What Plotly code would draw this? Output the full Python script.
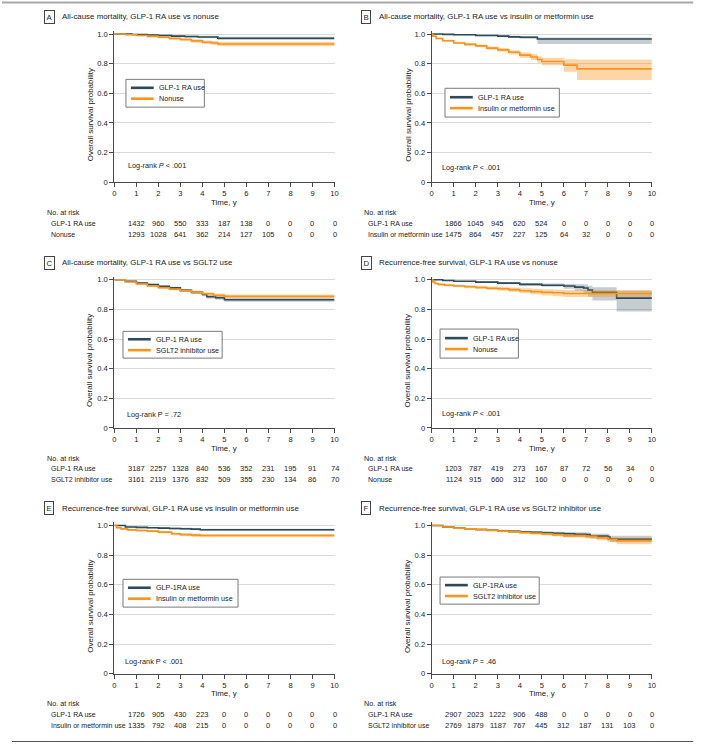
import plotly.graph_objects as go

W, H = 723, 748
FONT = "Liberation Sans, Arial, sans-serif"
TXT = "#222222"
DARK = "#2d4b58"
ORANGE = "#f7941d"
DARK_BAND = "rgba(45,75,88,0.28)"
ORANGE_BAND = "rgba(247,148,29,0.38)"

# ── Kaplan-Meier curves (time in years, survival prob) ──
# A: all-cause mortality, GLP-1 RA vs nonuse
A_GLP_T = [0, 0.8, 1.5, 2.0, 2.6, 3.2, 3.8, 4.7, 10]
A_GLP_S = [1.0, 0.997, 0.993, 0.99, 0.986, 0.983, 0.98, 0.972, 0.972]
A_GLP_LO = [1.0, 0.994, 0.988, 0.984, 0.979, 0.975, 0.971, 0.96, 0.96]
A_GLP_HI = [1.0, 0.999, 0.997, 0.995, 0.992, 0.99, 0.988, 0.982, 0.982]
A_CMP_T = [0, 0.5, 1.0, 1.5, 2.0, 2.5, 3.0, 3.5, 4.0, 4.4, 4.7, 10]
A_CMP_S = [1.0, 0.995, 0.99, 0.984, 0.978, 0.97, 0.963, 0.954, 0.945, 0.94, 0.933, 0.932]
A_CMP_LO = [1.0, 0.992, 0.985, 0.978, 0.97, 0.961, 0.952, 0.942, 0.932, 0.926, 0.918, 0.915]
A_CMP_HI = [1.0, 0.998, 0.995, 0.99, 0.985, 0.978, 0.972, 0.965, 0.957, 0.953, 0.948, 0.948]

# B: all-cause mortality, GLP-1 RA vs insulin or metformin
B_GLP_T = [0, 0.5, 1, 2, 3, 3.5, 4, 4.8, 10]
B_GLP_S = [1.0, 0.998, 0.995, 0.99, 0.986, 0.981, 0.978, 0.966, 0.966]
B_GLP_LO = [1.0, 0.995, 0.991, 0.985, 0.979, 0.973, 0.968, 0.933, 0.933]
B_GLP_HI = [1.0, 1.0, 0.998, 0.995, 0.992, 0.989, 0.987, 0.977, 0.977]
B_CMP_T = [0, 0.05, 0.2, 0.5, 1.0, 1.5, 2.0, 2.5, 3.0, 3.5, 4.0, 4.5, 4.8, 5.0, 6.0, 6.6, 10]
B_CMP_S = [1.0, 0.985, 0.97, 0.955, 0.94, 0.93, 0.92, 0.905, 0.893, 0.877, 0.858, 0.845,
           0.828, 0.815, 0.79, 0.765, 0.765]
B_CMP_LO = [1.0, 0.98, 0.964, 0.948, 0.932, 0.921, 0.91, 0.894, 0.88, 0.862, 0.84, 0.825,
            0.806, 0.79, 0.745, 0.69, 0.69]
B_CMP_HI = [1.0, 0.99, 0.976, 0.962, 0.948, 0.939, 0.93, 0.916, 0.905, 0.891, 0.875, 0.865,
            0.85, 0.84, 0.83, 0.828, 0.828]

# C: all-cause mortality, GLP-1 RA vs SGLT2
C_GLP_T = [0, 0.5, 1, 1.5, 2, 2.5, 3, 3.5, 4, 4.2, 4.6, 5, 10]
C_GLP_S = [1.0, 0.99, 0.978, 0.967, 0.955, 0.945, 0.928, 0.915, 0.9, 0.885, 0.878, 0.865, 0.865]
C_GLP_LO = [1.0, 0.986, 0.973, 0.961, 0.948, 0.937, 0.919, 0.905, 0.889, 0.873, 0.865, 0.852, 0.852]
C_GLP_HI = [1.0, 0.994, 0.983, 0.973, 0.962, 0.953, 0.937, 0.925, 0.911, 0.897, 0.891, 0.878, 0.878]
C_CMP_T = [0, 0.5, 1, 1.5, 2, 2.5, 3, 3.5, 4, 4.5, 5, 10]
C_CMP_S = [1.0, 0.985, 0.971, 0.958, 0.946, 0.936, 0.926, 0.916, 0.905, 0.895, 0.888, 0.888]
C_CMP_LO = [1.0, 0.981, 0.966, 0.952, 0.939, 0.928, 0.917, 0.906, 0.894, 0.883, 0.876, 0.876]
C_CMP_HI = [1.0, 0.989, 0.976, 0.964, 0.953, 0.944, 0.935, 0.926, 0.916, 0.907, 0.9, 0.9]

# D: recurrence-free survival, GLP-1 RA vs nonuse
D_GLP_T = [0, 0.5, 1, 2, 3, 4, 5, 6, 6.5, 6.9, 7.1, 7.3, 8.4, 10]
D_GLP_S = [1.0, 0.995, 0.99, 0.984, 0.977, 0.969, 0.963, 0.958, 0.95, 0.944, 0.93, 0.915, 0.876, 0.876]
D_GLP_LO = [1.0, 0.992, 0.986, 0.978, 0.97, 0.96, 0.952, 0.94, 0.925, 0.91, 0.885, 0.86, 0.785, 0.785]
D_GLP_HI = [1.0, 0.998, 0.994, 0.99, 0.984, 0.978, 0.974, 0.972, 0.97, 0.968, 0.96, 0.95, 0.925, 0.925]
D_CMP_T = [0, 0.05, 0.15, 0.3, 0.6, 1, 1.5, 2, 2.5, 3, 3.5, 4, 4.5, 5, 5.5, 6, 10]
D_CMP_S = [1.0, 0.985, 0.975, 0.968, 0.963, 0.958, 0.953, 0.948, 0.943, 0.939, 0.933, 0.926,
           0.92, 0.915, 0.912, 0.907, 0.907]
D_CMP_LO = [1.0, 0.979, 0.968, 0.96, 0.955, 0.949, 0.943, 0.937, 0.931, 0.926, 0.918, 0.909,
            0.901, 0.894, 0.889, 0.884, 0.884]
D_CMP_HI = [1.0, 0.99, 0.982, 0.976, 0.971, 0.967, 0.963, 0.959, 0.955, 0.952, 0.948, 0.943,
            0.939, 0.936, 0.934, 0.93, 0.93]

# E: recurrence-free survival, GLP-1 RA vs insulin or metformin
E_GLP_T = [0, 0.5, 1, 1.5, 2, 2.5, 3, 3.5, 3.9, 10]
E_GLP_S = [1.0, 0.99, 0.987, 0.985, 0.982, 0.98, 0.978, 0.975, 0.971, 0.971]
E_GLP_LO = [1.0, 0.986, 0.982, 0.979, 0.976, 0.973, 0.97, 0.967, 0.963, 0.963]
E_GLP_HI = [1.0, 0.994, 0.991, 0.99, 0.988, 0.986, 0.985, 0.982, 0.978, 0.978]
E_CMP_T = [0, 0.1, 0.3, 0.6, 1, 1.5, 2, 2.6, 3, 3.5, 3.9, 10]
E_CMP_S = [1.0, 0.985, 0.977, 0.97, 0.966, 0.962, 0.955, 0.944, 0.938, 0.935, 0.932, 0.932]
E_CMP_LO = [1.0, 0.98, 0.971, 0.964, 0.959, 0.954, 0.946, 0.934, 0.927, 0.923, 0.92, 0.92]
E_CMP_HI = [1.0, 0.99, 0.983, 0.976, 0.972, 0.969, 0.963, 0.953, 0.948, 0.946, 0.943, 0.943]

# F: recurrence-free survival, GLP-1 RA vs SGLT2 inhibitor
F_GLP_T = [0, 0.5, 1, 1.5, 2, 2.5, 3, 3.5, 4, 4.5, 5, 5.5, 6, 6.5, 7, 7.2, 8, 8.1, 10]
F_GLP_S = [1.0, 0.99, 0.982, 0.978, 0.973, 0.968, 0.964, 0.96, 0.957, 0.954, 0.951, 0.947,
           0.944, 0.941, 0.938, 0.928, 0.922, 0.908, 0.908]
F_GLP_LO = [1.0, 0.987, 0.978, 0.973, 0.968, 0.962, 0.957, 0.953, 0.949, 0.945, 0.941, 0.936,
            0.932, 0.928, 0.924, 0.912, 0.904, 0.886, 0.886]
F_GLP_HI = [1.0, 0.993, 0.986, 0.983, 0.978, 0.974, 0.971, 0.967, 0.965, 0.963, 0.961, 0.958,
            0.956, 0.954, 0.952, 0.944, 0.94, 0.93, 0.93]
F_CMP_T = [0, 0.5, 1, 1.5, 2, 2.5, 3, 3.5, 4, 4.5, 5, 5.5, 6, 7, 7.5, 8, 8.4, 10]
F_CMP_S = [1.0, 0.99, 0.982, 0.977, 0.972, 0.967, 0.962, 0.957, 0.952, 0.947, 0.942, 0.936,
           0.93, 0.925, 0.915, 0.905, 0.897, 0.897]
F_CMP_LO = [1.0, 0.987, 0.978, 0.972, 0.967, 0.961, 0.955, 0.95, 0.944, 0.938, 0.932, 0.925,
            0.918, 0.912, 0.9, 0.888, 0.873, 0.873]
F_CMP_HI = [1.0, 0.993, 0.986, 0.982, 0.977, 0.973, 0.969, 0.964, 0.96, 0.956, 0.952, 0.947,
            0.942, 0.938, 0.93, 0.922, 0.918, 0.918]

# ── Number at risk (years 1..10) ──
A_RISK_GLP = [1432, 960, 550, 333, 187, 138, 0, 0, 0, 0]
A_RISK_CMP = [1293, 1028, 641, 362, 214, 127, 105, 0, 0, 0]
B_RISK_GLP = [1866, 1045, 945, 620, 524, 0, 0, 0, 0, 0]
B_RISK_CMP = [1475, 864, 457, 227, 125, 64, 32, 0, 0, 0]
C_RISK_GLP = [3187, 2257, 1328, 840, 536, 352, 231, 195, 91, 74]
C_RISK_CMP = [3161, 2119, 1376, 832, 509, 355, 230, 134, 86, 70]
D_RISK_GLP = [1203, 787, 419, 273, 167, 87, 72, 56, 34, 0]
D_RISK_CMP = [1124, 915, 660, 312, 160, 0, 0, 0, 0, 0]
E_RISK_GLP = [1726, 905, 430, 223, 0, 0, 0, 0, 0, 0]
E_RISK_CMP = [1335, 792, 408, 215, 0, 0, 0, 0, 0, 0]
F_RISK_GLP = [2907, 2023, 1222, 906, 488, 0, 0, 0, 0, 0]
F_RISK_CMP = [2769, 1879, 1187, 767, 445, 312, 187, 131, 103, 0]
RISK_YEARS = [1, 2, 3, 4, 5, 6, 7, 8, 9, 10]

PANELS = [
    dict(letter="A", title="All-cause mortality, GLP-1 RA use vs nonuse",
         glp=(A_GLP_T, A_GLP_S, A_GLP_LO, A_GLP_HI), cmp=(A_CMP_T, A_CMP_S, A_CMP_LO, A_CMP_HI),
         names=("GLP-1 RA use", "Nonuse"), risk_names=("GLP-1 RA use", "Nonuse"),
         risk=(A_RISK_GLP, A_RISK_CMP), logrank="Log-rank <i>P</i> < .001",
         legend=(125, 79, 79, 28), lr=(125, 166)),
    dict(letter="B", title="All-cause mortality, GLP-1 RA use vs insulin or metformin use",
         glp=(B_GLP_T, B_GLP_S, B_GLP_LO, B_GLP_HI), cmp=(B_CMP_T, B_CMP_S, B_CMP_LO, B_CMP_HI),
         names=("GLP-1 RA use", "Insulin or metformin use"),
         risk_names=("GLP-1 RA use", "Insulin or metformin use"),
         risk=(B_RISK_GLP, B_RISK_CMP), logrank="Log-rank <i>P</i> < .001",
         legend=(126.7, 88, 115.3, 29), lr=(121.7, 167.7)),
    dict(letter="C", title="All-cause mortality, GLP-1 RA use vs SGLT2 use",
         glp=(C_GLP_T, C_GLP_S, C_GLP_LO, C_GLP_HI), cmp=(C_CMP_T, C_CMP_S, C_CMP_LO, C_CMP_HI),
         names=("GLP-1 RA use", "SGLT2 inhibitor use"),
         risk_names=("GLP-1 RA use", "SGLT2 inhibitor use"),
         risk=(C_RISK_GLP, C_RISK_CMP), logrank="Log-rank P = .72",
         legend=(122, 85.3, 100, 27), lr=(124, 169)),
    dict(letter="D", title="Recurrence-free survival, GLP-1 RA use vs nonuse",
         glp=(D_GLP_T, D_GLP_S, D_GLP_LO, D_GLP_HI), cmp=(D_CMP_T, D_CMP_S, D_CMP_LO, D_CMP_HI),
         names=("GLP-1 RA use", "Nonuse"), risk_names=("GLP-1 RA use", "Nonuse"),
         risk=(D_RISK_GLP, D_RISK_CMP), logrank="Log-rank <i>P</i> < .001",
         legend=(121.7, 83, 79, 29.3), lr=(121.7, 168)),
    dict(letter="E", title="Recurrence-free survival, GLP-1 RA use vs insulin or metformin use",
         glp=(E_GLP_T, E_GLP_S, E_GLP_LO, E_GLP_HI), cmp=(E_CMP_T, E_CMP_S, E_CMP_LO, E_CMP_HI),
         names=("GLP-1RA use", "Insulin or metformin use"),
         risk_names=("GLP-1 RA use", "Insulin or metformin use"),
         risk=(E_RISK_GLP, E_RISK_CMP), logrank="Log-rank P < .001",
         legend=(122, 87.6, 116, 28), lr=(122, 170.6)),
    dict(letter="F", title="Recurrence-free survival, GLP-1 RA use vs SGLT2 inhibitor use",
         glp=(F_GLP_T, F_GLP_S, F_GLP_LO, F_GLP_HI), cmp=(F_CMP_T, F_CMP_S, F_CMP_LO, F_CMP_HI),
         names=("GLP-1RA use", "SGLT2 inhibitor use"),
         risk_names=("GLP-1 RA use", "SGLT2 inhibitor use"),
         risk=(F_RISK_GLP, F_RISK_CMP), logrank="Log-rank <i>P</i> = .46",
         legend=(121.7, 85.3, 100, 27.3), lr=(121.7, 170.6)),
]


def X(p):
    return p / W


def Y(p):
    return 1 - p / H


def _text(x, y, text, size, anchor="left", xref="paper", **kw):
    return dict(x=x, y=y, xref=xref, yref="paper", text=text, showarrow=False,
                xanchor=anchor, yanchor="middle", font=dict(family=FONT, size=size, color=TXT), **kw)


fig = go.Figure()
annotations = []
shapes = []
layout_axes = {}

# plot-area geometry of panel A in pixels; other panels are offset
PX0, PX1 = 113.3, 335.3
PY_TOP, PY_BOT = 33.3, 182.7
COL_DX, ROW_DY = 320, 247.7
YMAX = 1.02

for i, p in enumerate(PANELS):
    n = i + 1
    col, row = i % 2, i // 2
    ox, oy = COL_DX * col, ROW_DY * row
    xa = "x" if n == 1 else f"x{n}"
    ya = "y" if n == 1 else f"y{n}"

    for (t, s, lo, hi), color, band in ((p["glp"], DARK, DARK_BAND), (p["cmp"], ORANGE, ORANGE_BAND)):
        fig.add_trace(go.Scatter(x=t, y=lo, mode="lines", line=dict(width=0, shape="hv"),
                                 xaxis=xa, yaxis=ya, showlegend=False, hoverinfo="skip"))
        fig.add_trace(go.Scatter(x=t, y=hi, mode="lines", line=dict(width=0, shape="hv"),
                                 fill="tonexty", fillcolor=band,
                                 xaxis=xa, yaxis=ya, showlegend=False, hoverinfo="skip"))
        fig.add_trace(go.Scatter(x=t, y=s, mode="lines", line=dict(width=1.6, color=color, shape="hv"),
                                 xaxis=xa, yaxis=ya, showlegend=False))

    top_px = PY_BOT + oy - (PY_BOT - PY_TOP) * YMAX
    axis_common = dict(showline=True, linecolor="#4a4a4a", linewidth=1, ticks="outside",
                       ticklen=4, tickcolor="#4a4a4a", tickfont=dict(family=FONT, size=7.6, color=TXT),
                       zeroline=False, fixedrange=True)
    layout_axes["xaxis" if n == 1 else f"xaxis{n}"] = dict(
        axis_common, domain=[X(PX0 + ox), X(PX1 + ox)], range=[0, 10],
        tickvals=list(range(11)), showgrid=False, anchor=ya)
    layout_axes["yaxis" if n == 1 else f"yaxis{n}"] = dict(
        axis_common, domain=[Y(PY_BOT + oy), Y(top_px)], range=[0, YMAX],
        tickvals=[0, 0.2, 0.4, 0.6, 0.8, 1.0], ticktext=["0", "0.2", "0.4", "0.6", "0.8", "1.0"],
        showgrid=True, gridcolor="#dadada", gridwidth=1, anchor=xa)

    # panel letter + title
    annotations.append(_text(X(47.5 + ox), Y(16 + oy), p["letter"], 7.8, anchor="center",
                             bordercolor="#444", borderwidth=1, borderpad=1.5))
    annotations.append(_text(X(58.5 + ox), Y(16 + oy), p["title"], 7.9))

    # axis titles
    annotations.append(_text(X(89 + ox), Y(115 + oy), "Overall survival probability", 8,
                             anchor="center", textangle=-90))
    annotations.append(_text(X((PX0 + PX1) / 2 + ox), Y(203 + oy), "Time, y", 7.9, anchor="center"))

    # legend box
    lx, ly, lw, lh = p["legend"]
    shapes.append(dict(type="rect", xref="paper", yref="paper",
                       x0=X(lx + ox), x1=X(lx + lw + ox), y0=Y(ly + oy), y1=Y(ly + lh + oy),
                       line=dict(color="#7a7a7a", width=1), fillcolor="white", layer="above"))
    for k, (name, color) in enumerate(zip(p["names"], (DARK, ORANGE))):
        yy = ly + oy + lh / 2 + (k - 0.5) * 11
        shapes.append(dict(type="line", xref="paper", yref="paper",
                           x0=X(lx + 5 + ox), x1=X(lx + 28 + ox), y0=Y(yy), y1=Y(yy),
                           line=dict(color=color, width=2.6), layer="above"))
        annotations.append(_text(X(lx + 31 + ox), Y(yy), name, 7.2))

    # log-rank
    annotations.append(_text(X(p["lr"][0] + ox), Y(p["lr"][1] + oy), p["logrank"], 7.3))

    # number at risk table
    annotations.append(_text(X(43 + ox), Y(213 + oy), "No. at risk", 7.2))
    for k, (label, counts) in enumerate(zip(p["risk_names"], p["risk"])):
        ry = Y(224 + 11 * k + oy)
        annotations.append(_text(X(47.5 + ox), ry, label, 7))
        for yr, v in zip(RISK_YEARS, counts):
            annotations.append(_text(yr, ry, str(v), 7.5, anchor="center", xref=xa))

# outer rules at top and bottom of the figure
shapes.append(dict(type="line", xref="paper", yref="paper", x0=0, x1=X(697), y0=Y(1.5), y1=Y(1.5),
                   line=dict(color="#a8a8a8", width=2)))
shapes.append(dict(type="line", xref="paper", yref="paper", x0=X(10), x1=X(697), y0=Y(746.5), y1=Y(746.5),
                   line=dict(color="#555555", width=1.2)))

fig.update_layout(
    width=W, height=H,
    margin=dict(l=0, r=0, t=0, b=0),
    paper_bgcolor="white", plot_bgcolor="white",
    showlegend=False,
    font=dict(family=FONT, size=8, color=TXT),
    annotations=annotations,
    shapes=shapes,
    **layout_axes,
)

# drop the default 8px page margin so the figure sits at the window origin
fig.write_html("out.html", config={"displayModeBar": False},
               post_script="document.body.style.margin='0';")
